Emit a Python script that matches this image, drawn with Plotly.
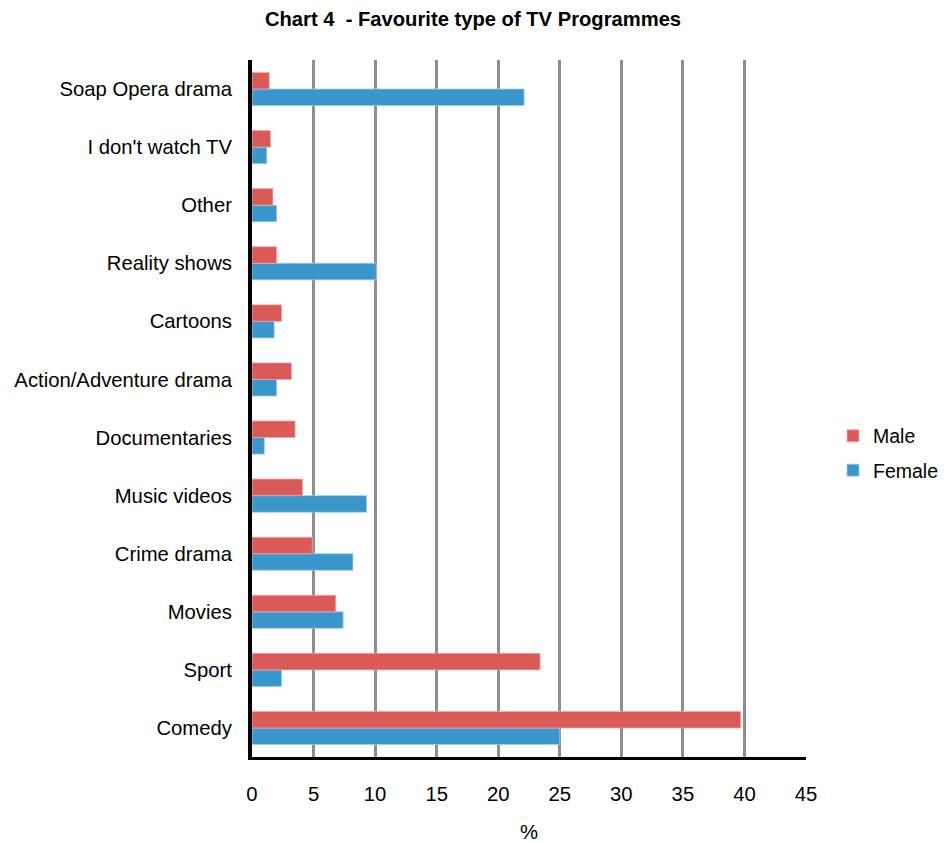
import plotly.graph_objects as go

categories = ["Comedy", "Sport", "Movies", "Crime drama", "Music videos", "Documentaries",
              "Action/Adventure drama", "Cartoons", "Reality shows", "Other",
              "I don't watch TV", "Soap Opera drama"]
male = [39.7, 23.4, 6.8, 4.9, 4.1, 3.5, 3.2, 2.4, 2.0, 1.7, 1.5, 1.4]
female = [25.0, 2.4, 7.4, 8.2, 9.3, 1.0, 2.0, 1.8, 10.1, 2.0, 1.2, 22.1]
x_ticks = [0, 5, 10, 15, 20, 25, 30, 35, 40, 45]

FONT = "Liberation Sans, Arial, sans-serif"
RED = "#D95A57"
BLUE = "#3A97CC"
FS = 20.3

fig = go.Figure()
fig.add_trace(go.Bar(y=categories, x=female, orientation="h", name="Female",
                     legendgroup="f", legendrank=2,
                     marker=dict(color=BLUE, line=dict(color="#9CCBE6", width=0.8))))
fig.add_trace(go.Bar(y=categories, x=male, orientation="h", name="Male",
                     legendgroup="m", legendrank=1,
                     marker=dict(color=RED, line=dict(color="#EDA9A7", width=0.8))))

fig.update_layout(
    width=946, height=843,
    margin=dict(l=252, r=140, t=60, b=86, autoexpand=False),
    paper_bgcolor="white", plot_bgcolor="white",
    barmode="group", bargap=0.43, bargroupgap=0,
    font=dict(family=FONT, size=FS, color="black"),
    title=dict(text="<b>Chart 4  - Favourite type of TV Programmes</b>",
               x=0.5, xref="container", xanchor="center", y=0.9775, yanchor="middle",
               font=dict(family=FONT, size=20.2, color="black")),
    legend=dict(traceorder="grouped", tracegroupgap=6,
                x=(833 - 252) / 554, xanchor="left", y=0.436, yanchor="middle",
                font=dict(family=FONT, size=19.5), bgcolor="rgba(0,0,0,0)"),
    xaxis=dict(range=[0, 45], tickvals=x_ticks, ticktext=[str(v) for v in x_ticks],
               showgrid=True, gridcolor="#8E8E8E", gridwidth=3, zeroline=False,
               showline=True, linecolor="black", linewidth=3, ticks="",
               ticklabelstandoff=17, tickfont=dict(size=FS)),
    yaxis=dict(categoryorder="array", categoryarray=categories, showgrid=False,
               zeroline=False, showline=True, linecolor="black", linewidth=4, ticks="",
               ticklabelstandoff=12, tickfont=dict(size=FS)),
    annotations=[dict(text="%", xref="paper", yref="paper", x=0.5, y=-0.107,
                      xanchor="center", yanchor="middle", showarrow=False,
                      font=dict(family=FONT, size=FS))],
)

fig.write_html("out.html", config={"displayModeBar": False},
               post_script="document.body.style.margin='0';")
